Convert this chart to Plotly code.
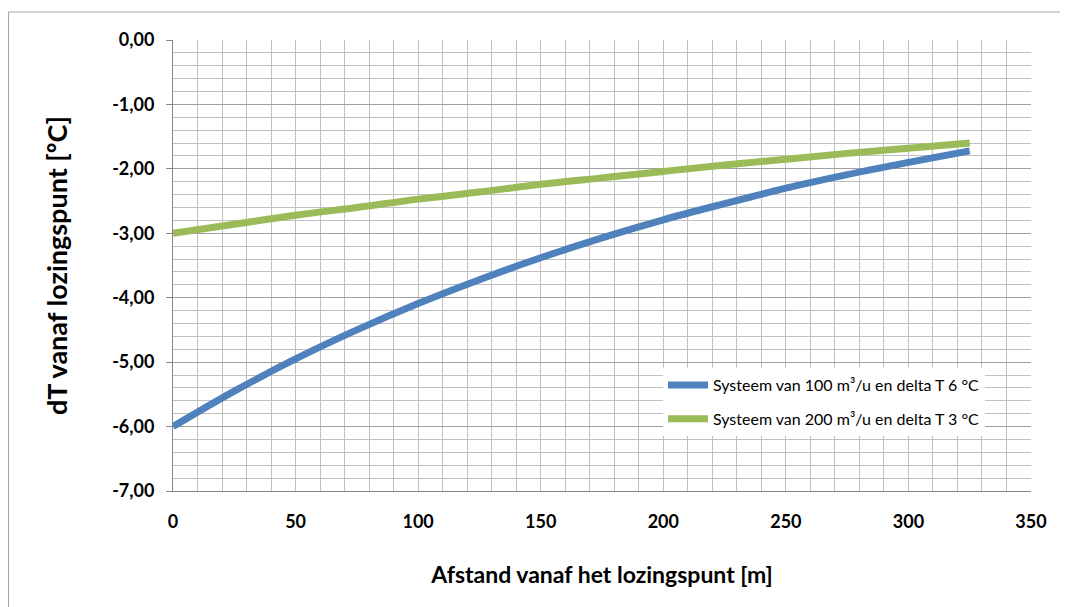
import plotly.graph_objects as go

afstand = [0, 25, 50, 75, 100, 125, 150, 175, 200, 225, 250, 275, 300, 325]
dt_100 = [-6.00, -5.45, -4.95, -4.50, -4.09, -3.72, -3.38, -3.07, -2.79, -2.54, -2.30, -2.09, -1.90, -1.72]
dt_200 = [-3.00, -2.86, -2.72, -2.60, -2.47, -2.36, -2.24, -2.14, -2.04, -1.94, -1.85, -1.76, -1.68, -1.60]
names = ["Systeem van 100 m³/u en delta T 6 °C", "Systeem van 200 m³/u en delta T 3 °C"]
colors = ["#4F81BD", "#9BBB59"]
y_ticks = [0, -1, -2, -3, -4, -5, -6, -7]
y_ticktext = ["0,00", "-1,00", "-2,00", "-3,00", "-4,00", "-5,00", "-6,00", "-7,00"]
x_ticks = [0, 50, 100, 150, 200, 250, 300, 350]

fig = go.Figure()
for i, (ys, nm) in enumerate(zip([dt_100, dt_200], names)):
    fig.add_trace(go.Scatter(x=afstand, y=ys, mode="lines", name=nm,
                             line=dict(color=colors[i], width=7, shape="spline"),
                             legendgroup=str(i)))

W, H = 1060, 599
L, T = 165, 32
pw, ph = 858, 451
R, B = W - L - pw, H - T - ph

fig.update_layout(
    width=W, height=H,
    margin=dict(l=L, r=R, t=T, b=B),
    paper_bgcolor="white", plot_bgcolor="white",
    separators=",.",
    font=dict(family="Lato, Liberation Sans, sans-serif", color="#000000"),
    showlegend=True,
    legend=dict(x=(655 - L) / pw, y=(T + ph - 360) / ph, xanchor="left", yanchor="top",
                bgcolor="white", borderwidth=0, font=dict(size=16, color="#000"),
                tracegroupgap=10, itemwidth=40),
    shapes=[dict(type="rect", xref="paper", yref="paper",
                 x0=(0.5 - L) / pw, x1=(W + 20 - L) / pw,
                 y0=-0.5, y1=(T + ph - 4) / ph,
                 line=dict(color="#a6a6a6", width=1), fillcolor="rgba(0,0,0,0)",
                 layer="below")],
)

fig.update_xaxes(
    range=[0, 350], tickvals=x_ticks, ticktext=[str(v) for v in x_ticks],
    showgrid=True, gridcolor="#c0c0c0", gridwidth=1,
    minor=dict(dtick=10, tick0=0, showgrid=True, gridcolor="#c0c0c0", gridwidth=1),
    showline=True, linecolor="#868686", linewidth=1,
    ticks="", ticklabelstandoff=14,
    tickfont=dict(size=18, family="Lato", weight="bold", color="#000"),
    title=dict(text="<b>Afstand vanaf het lozingspunt [m]</b>",
               font=dict(size=23, family="Lato", color="#000"), standoff=36),
    zeroline=False,
)
fig.update_yaxes(
    range=[-7, 0], tickvals=y_ticks, ticktext=y_ticktext,
    showgrid=True, gridcolor="#a0a0a0", gridwidth=1,
    minor=dict(dtick=0.2, tick0=0, showgrid=True, gridcolor="#c0c0c0", gridwidth=1),
    showline=True, linecolor="#868686", linewidth=1,
    ticks="outside", ticklen=6, tickcolor="#868686", ticklabelstandoff=8,
    tickfont=dict(size=18, family="Lato", weight="bold", color="#000"),
    title=dict(text="<b>dT vanaf lozingspunt [ºC]</b>",
               font=dict(size=27, family="Lato", color="#000"), standoff=36),
    zeroline=False,
)

fig.write_html("out.html")
